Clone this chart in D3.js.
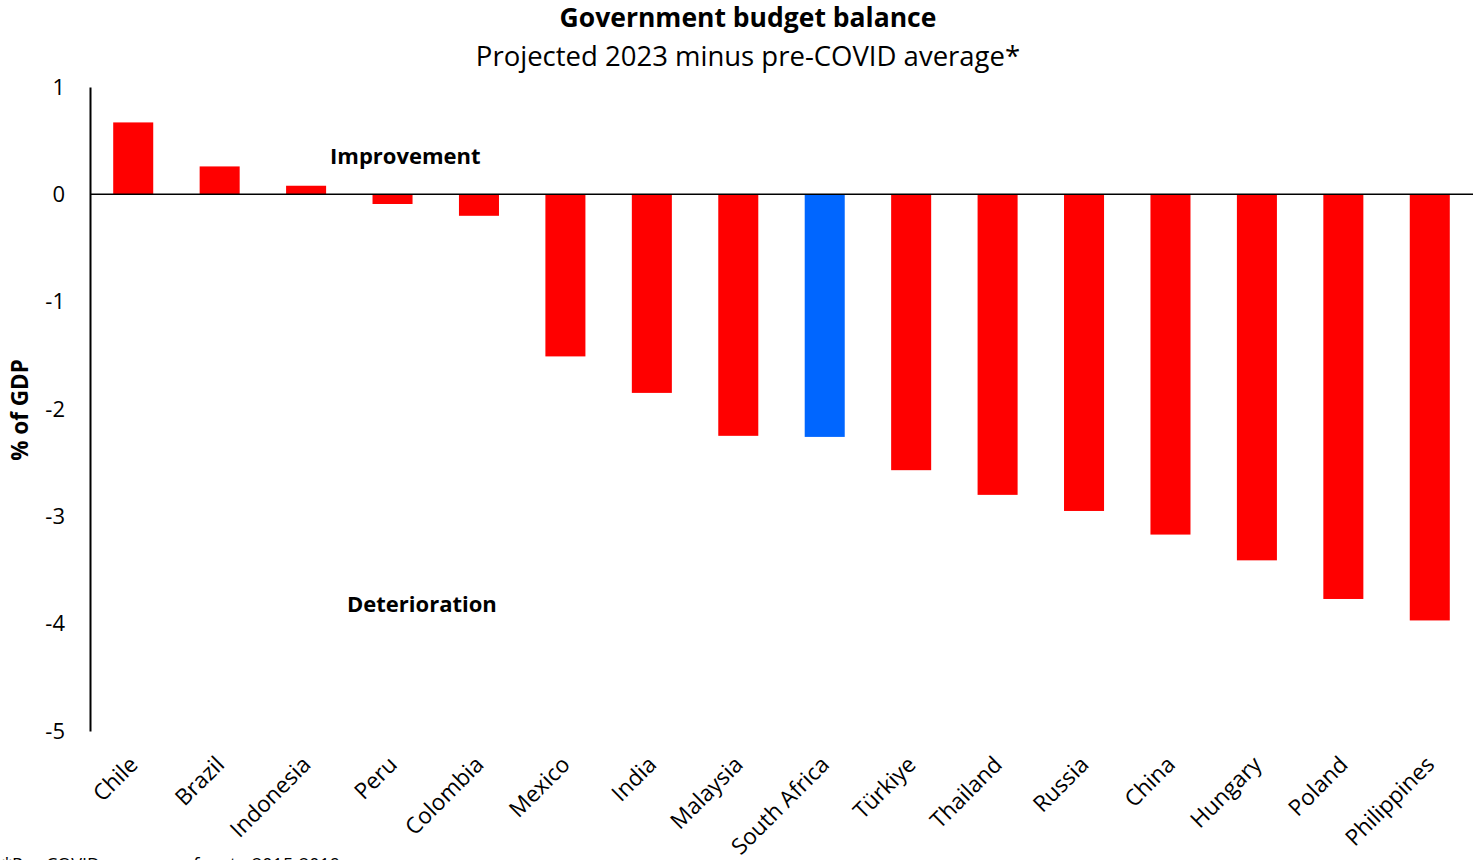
<!DOCTYPE html>
<html>
<head>
<meta charset="utf-8">
<script src="https://cdn.jsdelivr.net/npm/d3@7"></script>
<style>
  html, body { margin: 0; padding: 0; background: #fff; }
  svg { display: block; font-family: "Open Sans", "Noto Sans", sans-serif; }
</style>
</head>
<body>
<svg id="chart" width="1473" height="860"></svg>
<script>
// Change in government budget balance, % of GDP
const countries = ["Chile", "Brazil", "Indonesia", "Peru", "Colombia", "Mexico", "India", "Malaysia",
  "South Africa", "Türkiye", "Thailand", "Russia", "China", "Hungary", "Poland", "Philippines"];
const balanceChange = [0.67, 0.26, 0.08, -0.09, -0.2, -1.51, -1.85, -2.25,
  -2.26, -2.57, -2.8, -2.95, -3.17, -3.41, -3.77, -3.97];
const highlighted = ["South Africa"];
const yTicks = [1, 0, -1, -2, -3, -4, -5];

const svg = d3.select("#chart");
const plotLeft = 90, plotRight = 1473, plotTop = 87, plotBottom = 731;

const x = d3.scaleBand().domain(countries).range([plotLeft, plotRight]).paddingInner(0.537).paddingOuter(0.2685);
const y = d3.scaleLinear().domain([-5, 1]).range([plotBottom, plotTop]);

// Titles
svg.append("text").attr("x", 748).attr("y", 27).attr("text-anchor", "middle")
  .attr("font-size", 26.5).attr("font-weight", "bold").text("Government budget balance");
svg.append("text").attr("x", 748).attr("y", 66).attr("text-anchor", "middle")
  .attr("font-size", 27.5).text("Projected 2023 minus pre-COVID average*");

// Bars
svg.append("g").selectAll("rect").data(countries).join("rect")
  .attr("x", d => x(d))
  .attr("width", x.bandwidth())
  .attr("y", (d, i) => y(Math.max(0, balanceChange[i])))
  .attr("height", (d, i) => Math.abs(y(balanceChange[i]) - y(0)))
  .attr("fill", d => highlighted.includes(d) ? "#0066ff" : "#ff0000");

// Y axis
const yAxis = svg.append("g").attr("transform", `translate(${plotLeft},0)`)
  .call(d3.axisLeft(y).tickValues(yTicks).tickSize(0).tickPadding(25).tickFormat(d => String(d)));
yAxis.select(".domain").attr("stroke", "#000").attr("stroke-width", 2);
yAxis.selectAll("text").attr("font-size", 22).attr("font-family", "Open Sans, sans-serif").attr("fill", "#000");

// Zero line
svg.append("line").attr("x1", plotLeft).attr("x2", plotRight).attr("y1", y(0)).attr("y2", y(0))
  .attr("stroke", "#000").attr("stroke-width", 1.5);

// Category labels
const xAxis = svg.append("g").attr("transform", `translate(0,${plotBottom})`)
  .call(d3.axisBottom(x).tickSize(0).tickPadding(0));
xAxis.select(".domain").remove();
xAxis.selectAll("text")
  .attr("font-size", 22.5).attr("font-family", "Open Sans, sans-serif").attr("fill", "#000")
  .attr("text-anchor", "end")
  .attr("dy", 0)
  .attr("transform", "translate(6,35) rotate(-45)");

// Y axis title
svg.append("text").attr("transform", "translate(28,410) rotate(-90)")
  .attr("text-anchor", "middle").attr("font-size", 22.5).attr("font-weight", "bold").text("% of GDP");

// Annotations
svg.append("text").attr("x", 330).attr("y", 164).attr("font-size", 22).attr("font-weight", "bold").text("Improvement");
svg.append("text").attr("x", 347).attr("y", 612).attr("font-size", 22).attr("font-weight", "bold").text("Deterioration");

// Footnote
svg.append("text").attr("x", 2).attr("y", 871).attr("font-size", 18)
  .text("*Pre-COVID average refers to 2015-2019");
</script>
</body>
</html>
